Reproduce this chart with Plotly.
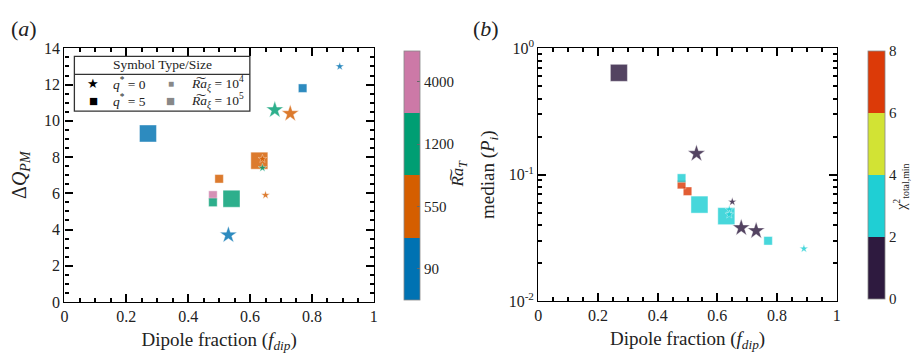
import plotly.graph_objects as go

W, H = 923, 363

# ---- data ----
f_dip = [0.89, 0.77, 0.68, 0.73, 0.27, 0.63, 0.64, 0.64, 0.50, 0.48, 0.48, 0.54, 0.65, 0.53]
dQ_PM = [13.0, 11.8, 10.6, 10.4, 9.3, 7.8, 7.9, 7.4, 6.8, 5.9, 5.5, 5.7, 5.9, 3.7]
q_star = [0, 5, 0, 0, 5, 5, 0, 0, 5, 5, 5, 5, 0, 0]
Ra_xi = [1e4, 1e4, 1e5, 1e5, 1e5, 1e5, 1e4, 1e4, 1e4, 1e4, 1e4, 1e5, 1e4, 1e5]
Ra_T = [90, 90, 1200, 550, 90, 550, 550, 1200, 550, 4000, 1200, 1200, 550, 90]
median_Pi = [0.026, 0.030, 0.038, 0.036, 0.64, 0.047, 0.053, 0.0485, 0.074, 0.0835, 0.094, 0.058, 0.061, 0.147]
chi2_min = [3, 3, 1, 1, 1, 3, 3, 3, 7, 7, 3, 3, 1, 1]

Ra_T_levels = [90, 550, 1200, 4000]
Ra_T_colors = ["#0072b2", "#d55e00", "#009e73", "#cc79a7"]
chi2_colors = ["#2e1a3f", "#1fcfd4", "#d2e334", "#dc3a08"]
chi2_ticks = [0, 2, 4, 6, 8]
x_ticks = [0, 0.2, 0.4, 0.6, 0.8, 1]
x_ticktext = ["0", "0.2", "0.4", "0.6", "0.8", "1"]

# ---- derived marker properties ----
symbols = ["star" if q == 0 else "square" for q in q_star]
sizes_a = []
for q, r in zip(q_star, Ra_xi):
    if q == 0:
        sizes_a.append(6.5 if r == 1e4 else 13)
    else:
        sizes_a.append(8.5 if r == 1e4 else 17)
Ra_idx = [Ra_T_levels.index(v) for v in Ra_T]


def discrete_scale(colors):
    n = len(colors)
    cs = []
    for i, c in enumerate(colors):
        cs.append([i / n, c])
        cs.append([(i + 1) / n, c])
    return cs


FONT = "Liberation Serif"
INK = "black"


def px_x(p):
    return p / W


def px_y(p):
    return 1 - p / H


fig = go.Figure()

fig.add_trace(go.Scatter(
    x=f_dip, y=dQ_PM, mode="markers", xaxis="x", yaxis="y", showlegend=False,
    marker=dict(
        symbol=symbols, size=sizes_a, color=Ra_idx, opacity=0.82,
        colorscale=discrete_scale(Ra_T_colors), cmin=-0.5, cmax=3.5,
        line=dict(width=0.6, color="rgba(255,255,255,0.7)"),
        colorbar=dict(
            x=px_x(393), xanchor="left", xref="paper",
            y=px_y(173.75), yanchor="middle", yref="paper",
            lenmode="pixels", len=268.5, thickness=16,
            tickvals=[0, 1, 2, 3], ticktext=[str(v) for v in Ra_T_levels],
            ticks="inside", ticklen=3, tickcolor="#666", outlinewidth=0.8, outlinecolor="#888",
            tickfont=dict(family=FONT, size=15, color="#222"),
        ),
    ),
))

fig.add_trace(go.Scatter(
    x=f_dip, y=median_Pi, mode="markers", xaxis="x2", yaxis="y2", showlegend=False,
    marker=dict(
        symbol=symbols, size=sizes_a, color=chi2_min, opacity=0.82,
        colorscale=discrete_scale(chi2_colors), cmin=0, cmax=8,
        line=dict(width=0.6, color="rgba(255,255,255,0.7)"),
        colorbar=dict(
            x=px_x(861), xanchor="left", xref="paper",
            y=px_y(173.25), yanchor="middle", yref="paper",
            lenmode="pixels", len=267.5, thickness=17,
            tickvals=chi2_ticks, ticktext=[str(v) for v in chi2_ticks],
            ticks="inside", ticklen=1, tickcolor="rgba(0,0,0,0)", outlinewidth=0.8, outlinecolor="#888",
            tickfont=dict(family=FONT, size=15, color="#222"),
        ),
    ),
))

axis_common = dict(
    zeroline=False, showgrid=False, showline=True, linecolor=INK, linewidth=1.3,
    mirror="allticks", ticks="inside", ticklen=8, tickwidth=1.6, tickcolor=INK,
    layer="above traces",
    tickfont=dict(family=FONT, size=16, color="#222"),
)
minor_x = dict(dtick=0.05, ticks="inside", ticklen=4, tickcolor=INK)
minor_y = dict(dtick=0.5, ticks="inside", ticklen=4, tickcolor=INK)
minor_log = dict(tickvals=[k * 0.01 for k in range(2, 10)] + [k * 0.1 for k in range(2, 10)],
                 ticks="inside", ticklen=4, tickcolor=INK)

XA = [px_x(61), px_x(373)]
YA = [px_y(308), px_y(39.5)]
XB = [px_x(539), px_x(840)]
YB = [px_y(307), px_y(39.5)]

fig.update_layout(
    width=W, height=H, margin=dict(l=0, r=0, t=0, b=0),
    paper_bgcolor="white", plot_bgcolor="white",
    font=dict(family=FONT, color="#222"),
    xaxis=dict(domain=XA, range=[0, 1], tickvals=x_ticks, ticktext=x_ticktext, minor=minor_x,
               title=dict(text="Dipole fraction (<i>f<sub>dip</sub></i>)", font=dict(family=FONT, size=19), standoff=8),
               **axis_common),
    yaxis=dict(domain=YA, range=[0, 14], dtick=2, minor=minor_y,
               title=dict(text="Δ<i>Q<sub>PM</sub></i>", font=dict(family=FONT, size=20), standoff=12),
               **axis_common),
    xaxis2=dict(domain=XB, range=[0, 1], anchor="y2", tickvals=x_ticks, ticktext=x_ticktext, minor=minor_x,
                title=dict(text="Dipole fraction (<i>f<sub>dip</sub></i>)", font=dict(family=FONT, size=19), standoff=8),
                **axis_common),
    yaxis2=dict(domain=YB, type="log", range=[-2, 0], anchor="x2",
                tickvals=[0.01, 0.1, 1], ticktext=["10<sup>-2</sup>", "10<sup>-1</sup>", "10<sup>0</sup>"],
                minor=minor_log,
                title=dict(text="median (<i>P<sub>i</sub></i>)", font=dict(family=FONT, size=19), standoff=8),
                **axis_common),
)

# ---- legend box (panel a) ----
bx0, bx1, by0, by1, bdiv = 71, 248, 48, 106, 67
fig.add_shape(type="rect", xref="paper", yref="paper",
              x0=px_x(bx0), x1=px_x(bx1), y0=px_y(by1), y1=px_y(by0),
              line=dict(color="#333", width=1.3), fillcolor="white", layer="above")
fig.add_shape(type="line", xref="paper", yref="paper",
              x0=px_x(bx0), x1=px_x(bx1), y0=px_y(bdiv), y1=px_y(bdiv),
              line=dict(color="#333", width=1.3), layer="above")

ann = []


def txt(x, y, s, size=12, color="#222", xanchor="left", angle=0):
    ann.append(dict(x=px_x(x), y=px_y(y), xref="paper", yref="paper", text=s, showarrow=False,
                    xanchor=xanchor, yanchor="middle", textangle=angle,
                    font=dict(family=FONT, size=size, color=color)))


txt(159.5, 57, "Symbol Type/Size", 13.5, xanchor="center")
txt(90, 77, "★", 13, "#000", xanchor="center")
txt(90, 95, "■", 15, "#000", xanchor="center")
txt(108, 77, "<i>q</i><sup>*</sup> = 0", 13.5)
txt(108, 95, "<i>q</i><sup>*</sup> = 5", 13.5)
txt(168, 77, "■", 10, "#888", xanchor="center")
txt(168, 95, "■", 15, "#888", xanchor="center")
txt(187, 77, "<i>R͠a</i><sub><i>ξ</i></sub> = 10<sup>4</sup>", 13.5)
txt(187, 95, "<i>R͠a</i><sub><i>ξ</i></sub> = 10<sup>5</sup>", 13.5)

# panel labels
txt(5, 18, "(<i>a</i>)", 22)
txt(471, 18, "(<i>b</i>)", 22)

# colorbar titles
txt(459, 172, "<i>R͠a<sub>T</sub></i>", 17, xanchor="center", angle=-90)
txt(905, 187, "χ<sup>2</sup><sub>total,min</sub>", 14, xanchor="center", angle=-90)

fig.update_layout(annotations=ann)

fig.write_html("out.html")
